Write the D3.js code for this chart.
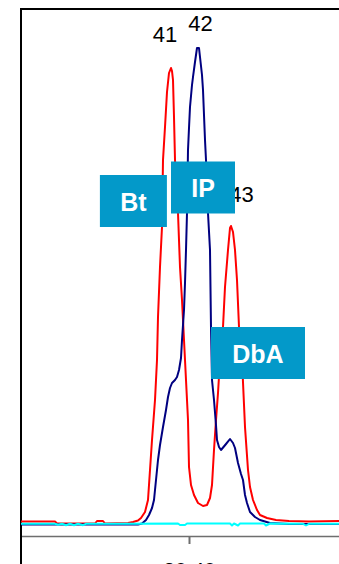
<!DOCTYPE html>
<html>
<head>
<meta charset="utf-8">
<script src="https://cdn.jsdelivr.net/npm/d3@7"></script>
<style>
  body { margin: 0; background: #fff; }
  svg { display: block; font-family: 'Liberation Sans', Arial, sans-serif; }
</style>
</head>
<body>
<div id="chart"></div>
<script>
// retention time (min), intensity
const redTrace = [
  [19.98, 14.5], [20.065, 14.5], [20.07, 12.5], [20.165, 12.5], [20.17, 15], [20.185, 15],
  [20.19, 12.5], [20.2475, 13], [20.26, 14], [20.2725, 15.5], [20.28, 18], [20.29, 24],
  [20.2975, 36], [20.3025, 66], [20.3075, 96], [20.315, 136], [20.32, 176], [20.3225, 219],
  [20.3275, 269], [20.3325, 309], [20.335, 376], [20.34, 409], [20.345, 444], [20.35, 463],
  [20.355, 468], [20.3575, 465], [20.36, 456], [20.3625, 419], [20.365, 376], [20.3725, 323],
  [20.3775, 269], [20.3825, 236], [20.39, 176], [20.3975, 116], [20.40, 69], [20.405, 51],
  [20.4125, 41], [20.4225, 33], [20.435, 30], [20.445, 31], [20.4525, 38], [20.4575, 51],
  [20.4625, 86], [20.4675, 116], [20.4725, 143], [20.4775, 176], [20.485, 209], [20.49, 249],
  [20.4975, 286], [20.5025, 308], [20.505, 310], [20.51, 304], [20.515, 286], [20.52, 256],
  [20.525, 209], [20.5325, 176], [20.54, 109], [20.5475, 66], [20.5525, 49], [20.56, 36],
  [20.57, 26], [20.5775, 21], [20.595, 18], [20.6175, 16], [20.65, 15], [20.7, 14.5], [20.775, 15]
]

const blueTrace = [
  [19.98, 11.5], [20.2725, 11.5], [20.2825, 12.5], [20.2925, 16], [20.30, 21], [20.3075, 28],
  [20.3125, 36], [20.3175, 56], [20.3225, 76], [20.3275, 91], [20.335, 109], [20.3425, 126],
  [20.3475, 139], [20.3525, 148], [20.3575, 153], [20.365, 156], [20.37, 159], [20.375, 166],
  [20.38, 178], [20.3825, 196], [20.3875, 226], [20.39, 253], [20.3925, 286], [20.395, 323],
  [20.3975, 386], [20.40, 408], [20.4025, 429], [20.4075, 451], [20.41, 459], [20.415, 474],
  [20.42, 488], [20.425, 488], [20.4275, 479], [20.4325, 461], [20.435, 446], [20.44, 396],
  [20.4425, 376], [20.4475, 323], [20.4525, 286], [20.455, 209], [20.4575, 156], [20.4625, 136],
  [20.4675, 111], [20.47, 96], [20.475, 89], [20.48, 86], [20.4925, 92], [20.5025, 97],
  [20.51, 93], [20.515, 88], [20.5225, 73], [20.53, 62], [20.535, 56], [20.54, 41],
  [20.545, 33], [20.5525, 24], [20.565, 19], [20.5775, 16], [20.6025, 13], [20.65, 12], [20.775, 12]
]

const cyanTrace = [
  [19.98, 12.2], [20.065, 12.2], [20.0725, 11.2], [20.0825, 12.2], [20.0925, 10.8], [20.1025, 12.2],
  [20.1125, 10.8], [20.1225, 12.2], [20.135, 10.8], [20.1425, 12.2], [20.2275, 12.2], [20.3725, 12.5],
  [20.3775, 11], [20.39, 11], [20.395, 12.5], [20.5025, 12.5], [20.5075, 10.5], [20.5125, 12.5],
  [20.5225, 10.5], [20.5275, 12.5], [20.5875, 12.5], [20.5925, 10.5], [20.6025, 12.5],
  [20.685, 12.2], [20.6925, 10.5], [20.70, 12.2], [20.775, 12.2]
]

const timeDomain = [19.98, 20.775]
const intensityMax = 527
const tickTimes = [20.40]

// peak numbers: label, time, intensity
const peakNumbers = [['41', 20.34, 494], ['42', 20.42875, 505], ['43', 20.53125, 334]]
// compound tags: label, time, intensity (centre)
const tagNames = ['Bt', 'IP', 'DbA']
const tagTimes = [20.261, 20.435, 20.5725]
const tagIntensities = [335, 348.5, 183]
const tagWidths = [67, 64, 94]

const width = 339
const height = 564
const margin = { top: 9, right: 0, bottom: 28, left: 21 }

const svg = d3.select('#chart')
  .append('svg')
  .attr('width', width)
  .attr('height', height)

const x = d3.scaleLinear()
  .domain(timeDomain)
  .range([margin.left, width - margin.right])

const y = d3.scaleLinear()
  .domain([0, intensityMax])
  .range([height - margin.bottom, margin.top])

// bottom axis
const axis = svg.append('g')
  .attr('transform', `translate(0,${height - margin.bottom})`)
  .call(d3.axisBottom(x)
    .tickValues(tickTimes)
    .tickFormat(d3.format('.2f'))
    .tickSize(8)
    .tickSizeOuter(0)
    .tickPadding(18.5))
axis.select('.domain').attr('stroke', '#6e6e6e').attr('stroke-width', 1.5)
axis.selectAll('.tick line').attr('stroke', '#6e6e6e').attr('stroke-width', 2)
axis.selectAll('.tick text')
  .attr('fill', '#000')
  .attr('font-size', '21px')
  .attr('font-family', 'Liberation Sans, Arial, sans-serif')

// frame: top and left
svg.append('line')
  .attr('x1', margin.left - 1).attr('x2', width)
  .attr('y1', margin.top).attr('y2', margin.top)
  .attr('stroke', '#000').attr('stroke-width', 2)
svg.append('line')
  .attr('x1', margin.left).attr('x2', margin.left)
  .attr('y1', margin.top - 1).attr('y2', height)
  .attr('stroke', '#000').attr('stroke-width', 2)

const line = d3.line()
  .x(d => x(d[0]))
  .y(d => y(d[1]))

const traces = [
  { data: redTrace, color: '#ff0000' },
  { data: blueTrace, color: '#000080' },
  { data: cyanTrace, color: '#00ffff' },
]

traces.forEach(t => {
  svg.append('path')
    .datum(t.data)
    .attr('fill', 'none')
    .attr('stroke', t.color)
    .attr('stroke-width', 2)
    .attr('stroke-linejoin', 'round')
    .attr('d', line)
})

// peak numbers
svg.selectAll('text.peak')
  .data(peakNumbers)
  .join('text')
  .attr('class', 'peak')
  .attr('x', d => x(d[1]))
  .attr('y', d => y(d[2]))
  .attr('text-anchor', 'middle')
  .attr('font-size', '22px')
  .attr('fill', '#000')
  .text(d => d[0])

// compound tags
const tagHeight = 52
tagNames.forEach((name, i) => {
  const cx = x(tagTimes[i])
  const cy = y(tagIntensities[i])
  svg.append('rect')
    .attr('x', cx - tagWidths[i] / 2)
    .attr('y', cy - tagHeight / 2)
    .attr('width', tagWidths[i])
    .attr('height', tagHeight)
    .attr('fill', '#0399c9')
  svg.append('text')
    .attr('x', cx)
    .attr('y', cy + 9.5)
    .attr('text-anchor', 'middle')
    .attr('font-size', '25px')
    .attr('font-weight', 'bold')
    .attr('fill', '#fff')
    .text(name)
})
</script>
</body>
</html>
